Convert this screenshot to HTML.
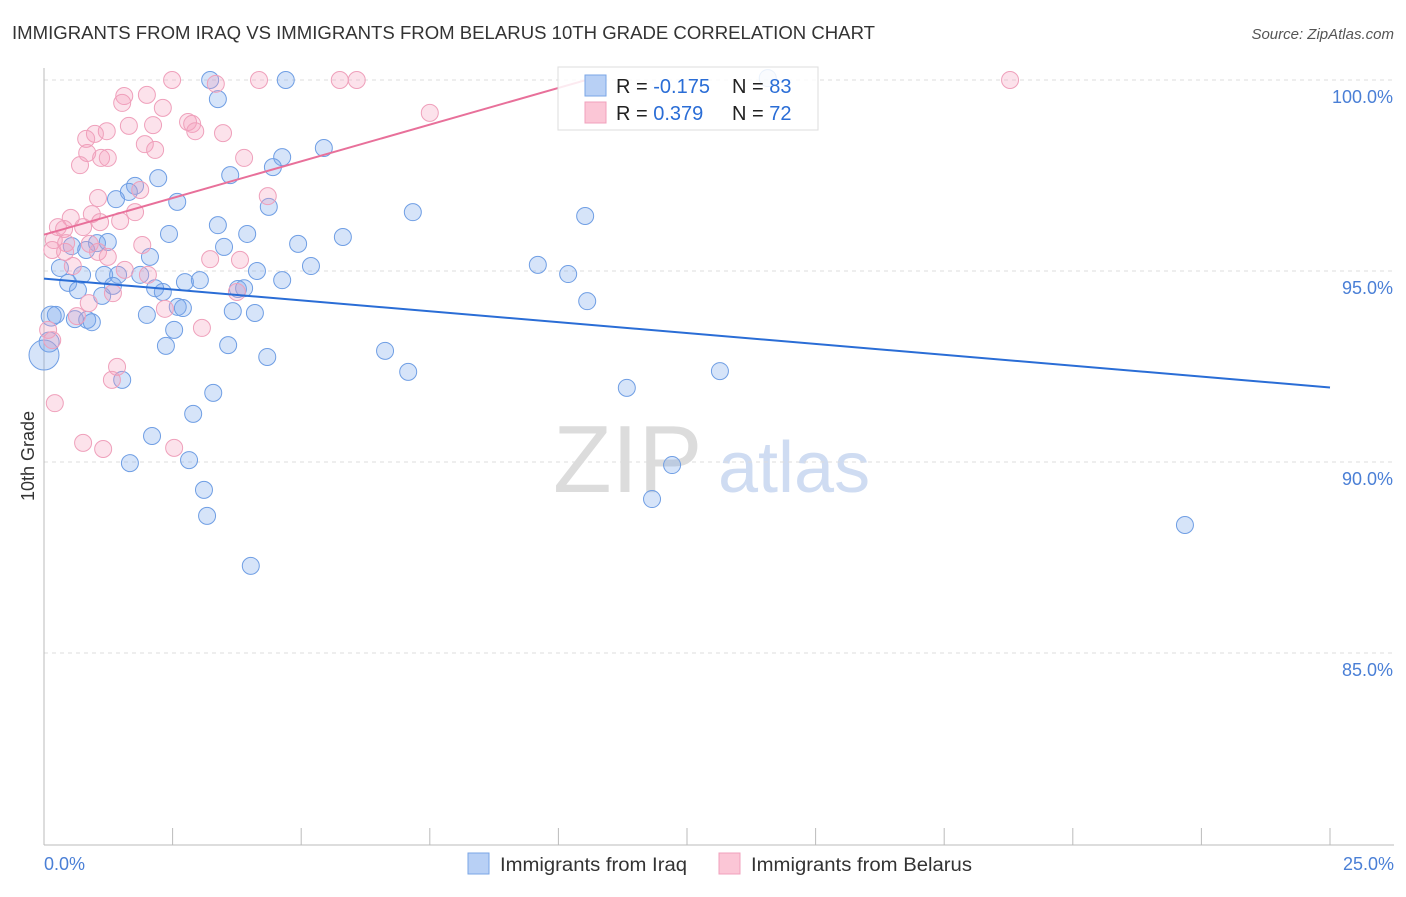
<!DOCTYPE html>
<html><head><meta charset="utf-8"><style>
body{margin:0;background:#fff;font-family:"Liberation Sans",sans-serif}
svg text{font-family:"Liberation Sans",sans-serif}
</style></head><body>
<svg id="chart" width="1406" height="892" xmlns="http://www.w3.org/2000/svg">
<text x="12" y="39" font-size="18" fill="#333" textLength="863" lengthAdjust="spacingAndGlyphs">IMMIGRANTS FROM IRAQ VS IMMIGRANTS FROM BELARUS 10TH GRADE CORRELATION CHART</text>
<text x="1394" y="39" font-size="15" fill="#555" font-style="italic" text-anchor="end">Source: ZipAtlas.com</text>
<text x="553" y="492" font-size="96" fill="#dcdcdc" font-family="Liberation Serif">ZIP</text>
<text x="718" y="492" font-size="72" fill="#cfdcf2">atlas</text>
<g id="grid"></g>
<g id="axes"></g>
<g id="points"></g>
<g id="trends"></g>
<text transform="translate(34,456) rotate(-90)" font-size="18" fill="#333" text-anchor="middle">10th Grade</text>
<text x="44" y="870" font-size="18" fill="#4a7fd6">0.0%</text>
<text x="1394" y="870" font-size="18" fill="#4a7fd6" text-anchor="end">25.0%</text>
<g>
<rect x="558" y="67" width="260" height="63" fill="rgba(255,255,255,0.85)" stroke="#ddd"/>
<rect x="585" y="75" width="21" height="21" fill="#b8d0f5" stroke="#7aa6e6"/>
<rect x="585" y="102" width="21" height="21" fill="#fbc6d6" stroke="#f0a0bc"/>
<text x="616" y="93" font-size="20" fill="#222">R = <tspan fill="#2a6dd6">-0.175</tspan></text>
<text x="732" y="93" font-size="20" fill="#222">N = <tspan fill="#2a6dd6">83</tspan></text>
<text x="616" y="120" font-size="20" fill="#222">R = <tspan fill="#2a6dd6"> 0.379</tspan></text>
<text x="732" y="120" font-size="20" fill="#222">N = <tspan fill="#2a6dd6">72</tspan></text>
</g>
<g>
<rect x="468" y="853" width="21" height="21" fill="#b8d0f5" stroke="#7aa6e6"/>
<text x="500" y="871" font-size="19" fill="#333" textLength="187" lengthAdjust="spacingAndGlyphs">Immigrants from Iraq</text>
<rect x="719" y="853" width="21" height="21" fill="#fbc6d6" stroke="#f0a0bc"/>
<text x="751" y="871" font-size="19" fill="#333" textLength="221" lengthAdjust="spacingAndGlyphs">Immigrants from Belarus</text>
</g>
</svg>
<script>
const yTicks=[100,95,90,85];
const yTickLabels=["100.0%","95.0%","90.0%","85.0%"];
const xTicks=[0,2.5,5,7.5,10,12.5,15,17.5,20,22.5,25];
const iraqPx=[[210,80],[286,80],[218,99],[768,78],[324,148],[282,157],[273,167],[230,175],[158,178],[135,186],[129,192],[116,199],[177,202],[269,207],[413,212],[585,216],[218,225],[169,234],[247,234],[343,237],[298,244],[224,247],[97,243],[108,242],[72,246],[86,250],[150,257],[60,268],[257,271],[311,266],[538,265],[568,274],[82,275],[104,275],[118,275],[140,275],[185,282],[200,280],[282,280],[68,283],[78,290],[113,286],[155,288],[163,292],[238,289],[244,288],[102,296],[587,301],[51,316],[56,315],[75,319],[87,320],[92,322],[147,315],[178,307],[183,308],[233,311],[255,313],[174,330],[166,346],[228,345],[49,342],[44,355],[385,351],[267,357],[408,372],[720,371],[122,380],[627,388],[213,393],[193,414],[152,436],[130,463],[189,460],[672,465],[204,490],[652,499],[207,516],[1185,525],[251,566]];
const belarusPx=[[172,80],[259,80],[340,80],[357,80],[1010,80],[216,84],[124,96],[147,95],[122,103],[163,108],[430,113],[188,122],[192,124],[129,126],[153,125],[107,131],[95,134],[86,139],[195,131],[223,133],[145,144],[155,150],[87,153],[101,158],[108,158],[244,158],[80,165],[140,190],[268,196],[98,198],[135,212],[92,214],[71,218],[100,222],[120,221],[58,227],[64,229],[83,227],[54,240],[66,243],[90,244],[142,245],[52,250],[65,252],[98,252],[108,257],[210,259],[240,260],[73,266],[125,270],[148,275],[237,292],[113,293],[89,303],[165,309],[77,316],[202,328],[48,330],[52,340],[117,367],[112,380],[55,403],[83,443],[103,449],[174,448]];
const iraqX=iraqPx.map(p=>+((p[0]-44)/1286*25).toFixed(2));
const iraqY=iraqPx.map(p=>+(100-(p[1]-80)/191*5).toFixed(2));
const belarusX=belarusPx.map(p=>+((p[0]-44)/1286*25).toFixed(2));
const belarusY=belarusPx.map(p=>+(100-(p[1]-80)/191*5).toFixed(2));
const iraqTrend=[[0,94.8],[25,91.95]];
const belarusTrend=[[0,95.95],[10.8,100.1]];
const NS="http://www.w3.org/2000/svg";
const sx=v=>44+v/25*1286, sy=v=>80+(100-v)/5*191;
function mk(t,a,parent){const e=document.createElementNS(NS,t);for(const k in a)e.setAttribute(k,a[k]);document.getElementById(parent).appendChild(e);return e;}
yTicks.forEach((t,i)=>{
 const l=mk('line',{x1:44,x2:1394,y1:sy(t),y2:sy(t),stroke:'#ddd','stroke-dasharray':'4,4'},'grid');
 
 
 const tx=mk('text',{x:1393,y:sy(t)+23,'font-size':18,fill:'#4a7fd6','text-anchor':'end'},'grid');
 tx.textContent=yTickLabels[i];
 
 
});
const ax=mk('line',{x1:44,x2:44,y1:68,y2:845,stroke:'#bbb'},'axes');


const bx=mk('line',{x1:44,x2:1394,y1:845,y2:845,stroke:'#bbb'},'axes');


xTicks.forEach(t=>{
 const l=mk('line',{x1:sx(t),x2:sx(t),y1:828,y2:845,stroke:'#bbb'},'axes');
 
 
});
function dots(X,Y,fill,stroke,name,big){X.forEach((x,i)=>{
 const r=(big&&x<0.05)?15:(big&&x<0.2&&Y[i]<94)?10:8.5;
 const c=mk('circle',{cx:sx(x),cy:sy(Y[i]),r:r,fill:fill,stroke:stroke,'stroke-width':1},'points');
 
 
});}
dots(iraqX,iraqY,'rgba(120,165,235,0.3)','#6f9ee4','iraq-point',true);
dots(belarusX,belarusY,'rgba(245,160,190,0.3)','#efa0bb','belarus-point',false);
const t1=mk('line',{x1:sx(iraqTrend[0][0]),y1:sy(iraqTrend[0][1]),x2:sx(iraqTrend[1][0]),y2:sy(iraqTrend[1][1]),stroke:'#2a6dd6','stroke-width':2},'trends');


const t2=mk('line',{x1:sx(belarusTrend[0][0]),y1:sy(belarusTrend[0][1]),x2:sx(belarusTrend[1][0]),y2:sy(belarusTrend[1][1]),stroke:'#e8709a','stroke-width':2},'trends');


</script>
</body></html>
